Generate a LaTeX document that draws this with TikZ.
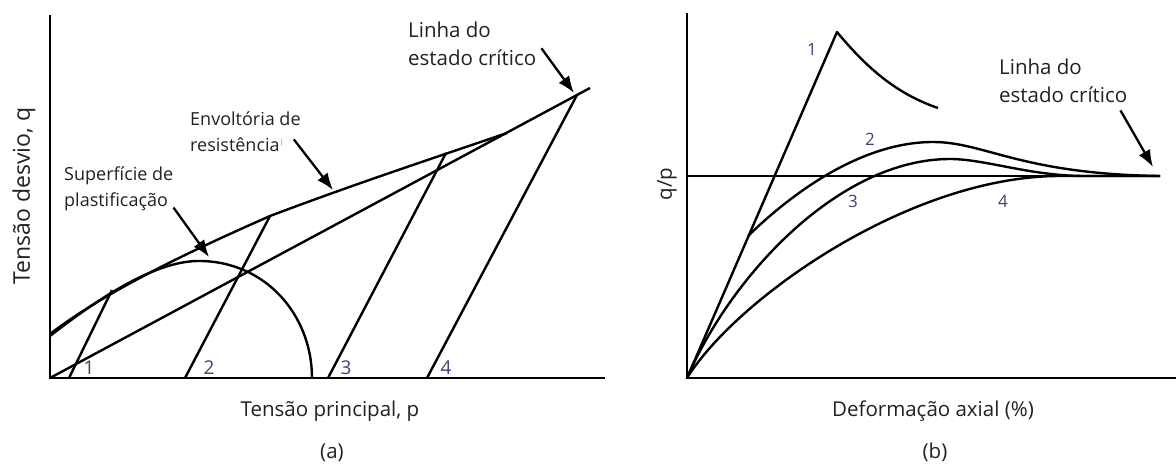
\documentclass[tikz,border=0pt]{standalone}
\usepackage{fontspec}
\setmainfont{Open Sans}
\usepackage{tikz}
\usetikzlibrary{positioning,arrows.meta}
\definecolor{cinzaescuro}{gray}{0.13}
\definecolor{roxo}{RGB}{72,62,112}

\begin{document}
\begin{tikzpicture}[
x=1pt, y=-1pt,
font=\fontsize{20.5}{28}\selectfont,
>={Latex[length=17pt,width=13pt]},   %Pontas de seta
eixo/.style={line width=2.8pt},
linha/.style={line width=2.4pt, line join=round},
seta/.style={->, line width=2.3pt},
rotulo/.style={anchor=base west, align=left, inner sep=0pt, text=cinzaescuro},
rotulop/.style={rotulo, font=\fontsize{18}{25.5}\selectfont},
numero/.style={anchor=base, inner sep=0pt, text=roxo, font=\fontsize{19}{19}\selectfont},
titulo/.style={anchor=base, inner sep=0pt, text=cinzaescuro}
]
\useasboundingbox (0,0) rectangle (1176,466);

%%%%%%%%%% (a) %%%%%%%%%%
\coordinate (Oa) at (50,378);
\coordinate (Ya) at (50,15);
\coordinate (Xa) at (605,378);
\coordinate (Ca) at (577,95);   % ponto do estado critico
\coordinate (Ea) at (590,88);

% Eixos
\draw[eixo] (Ya) -- (Oa) -- (Xa);

% Linha do estado critico
\draw[linha] (Oa) -- (Ea);

% Envoltoria de resistencia
\draw[linha] (50,334) .. controls (110,288) and (200,247) .. (270,216)
  .. controls (360,182) and (440,156) .. (507,133);

% Superficie de plastificacao
\draw[linha] (50,336) .. controls (90,305) and (150,262) .. (197,261)
  .. controls (265,260) and (312,315) .. (312,378);

% Trajetorias de tensao
\draw[linha] (69,378) -- (112,290);
\draw[linha] (185,378) -- (270,216);
\draw[linha] (328,378) -- (446,153);
\draw[linha] (427,378) -- (Ca);

%Numeros das trajetorias
\foreach \x/\n in {89/1,209/2,346/3,446/4}
\node[numero] (na\n) at (\x,374) {\n};

% Rotulos
\node[rotulo] (lcA) at (408,65) {Linha do\\estado crítico};
\node[rotulop] (envA) at (190,151) {Envoltória de\\resistência\raisebox{7pt}{\textcolor{gray}{\fontsize{7}{7}\selectfont |}}};
\node[rotulop] (supA) at (64,206) {Superfície de\\plastificação};

\coordinate (lcA-p) at (574,93);
\coordinate (envA-p) at (333,190);
\coordinate (supA-p) at (209,257);
\draw[seta] ([shift={(5,5)}]lcA.east) -- (lcA-p);
\draw[seta] ([shift={(-7,8)}]envA.east) -- (envA-p);
\draw[seta] ([shift={(0,-3)}]supA.south east) -- (supA-p);

% Titulos dos eixos
\node[titulo, rotate=90, anchor=center, font=\fontsize{23}{26}\selectfont] (qa) at (24,196) {Tensão desvio, q};
\node[titulo] (pa) at (330,416) {Tensão principal, p};
\node[titulo] (a) at (332,458) {(a)};

%%%%%%%%%% (b) %%%%%%%%%%
\coordinate (Ob) at (687,378);
\coordinate (Yb) at (687,13);
\coordinate (Xb) at (1176,378);
\coordinate (Pb) at (837,32);   % pico da curva 1
\coordinate (Fb) at (1160,176); % fim da linha do estado critico

% Eixos
\draw[eixo] (Yb) -- (Ob) -- (Xb);

% Linha do estado critico
\draw[linha] (687,176) -- (Fb);

% Curva 1
\draw[linha] (Ob) -- (Pb) .. controls (870,72) and (900,95) .. (938,108);
% Curva 2
\draw[linha] (748,236) .. controls (790,195) and (860,142) .. (933,142)
  .. controls (985,142) and (1020,174) .. (Fb);
% Curva 3
\draw[linha] (Ob) .. controls (732,274) and (840,159) .. (950,159)
  .. controls (985,159) and (1030,176) .. (1085,176) -- (Fb);
% Curva 4
\draw[linha] (Ob) .. controls (737,298) and (910,176) .. (1060,176) -- (Fb);

%Numeros das curvas
\foreach \x/\y/\n in {812/55/1,870/145/2,853/207/3,1003/207/4}
\node[numero, font=\fontsize{17}{17}\selectfont] (nb\n) at (\x,\y) {\n};

% Rotulo
\node[rotulo] (lcB) at (999,102) {Linha do\\estado crítico};
\coordinate (lcB-p) at (1153,167);
\draw[seta] ([shift={(-7,8)}]lcB.south east) -- (lcB-p);

% Titulos dos eixos
\node[titulo, rotate=90, anchor=center] (qb) at (667,184) {q/p};
\node[titulo] (pb) at (933,416) {Deformação axial (\%)};
\node[titulo] (b) at (935,458) {(b)};
\end{tikzpicture}
\end{document}
